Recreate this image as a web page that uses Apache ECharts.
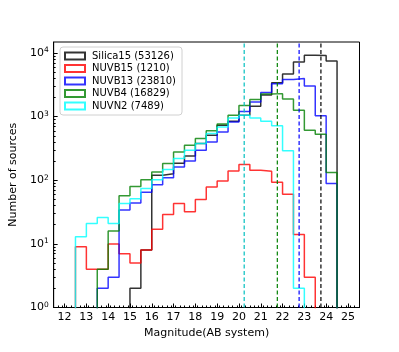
<!DOCTYPE html>
<html>
<head>
<meta charset="utf-8">
<script src="https://cdn.jsdelivr.net/npm/echarts@6/dist/echarts.min.js"></script>
<style>html,body{margin:0;padding:0;background:#fff}#c{width:399px;height:352px}</style>
</head>
<body>
<div id="c"></div>
<script>
// Left edges of 0.5-mag bins (last bin ends at 25.0)
const binLefts = [12.5,13,13.5,14,14.5,15,15.5,16,16.5,17,17.5,18,18.5,19,19.5,20,20.5,21,21.5,22,22.5,23,23.5,24,24.5];
const binWidth = 0.5;
const silica15 = [0,0,0,0,0,2,8,120,127,185,240,378,510,734,850,1050,1460,2180,3400,4700,7200,9200,9100,7500,0];
const nuvb15   = [9,4,4,10,7,5,8,17,29,43,32,50,78,97,140,177,144,138,93,60,14,3,0,0,0];
const nuvb13   = [0,0,2,3,34,44,65,85,110,162,201,296,400,573,820,1200,1700,2400,3300,3850,3980,3020,1030,89,0];
const nuvb4    = [0,0,4,16,57,80,102,135,183,279,355,454,598,763,1055,1500,1860,2260,2300,1890,1260,612,530,133,0];
const nuvn2    = [13,21,26,21,43,51,74,102,147,219,296,378,543,690,950,1050,950,850,720,290,2,0,0,0,0];
const seriesNames  = ['Silica15 (53126)','NUVB15 (1210)','NUVB13 (23810)','NUVB4 (16829)','NUVN2 (7489)'];
const seriesColors = ['#000000','#ff0000','#0000ff','#008000','#00ffff'];
const limitMags    = [20.24, 21.76, 22.76, 23.76];
const limitColors  = ['#00bfbf','#008000','#0000ff','#000000'];
const xTicks = [12,13,14,15,16,17,18,19,20,21,22,23,24,25];
const yTicks = [1,10,100,1000,10000];

const allSeries = [silica15, nuvb15, nuvb13, nuvb4, nuvn2];
const FLOOR = 0.01; // below axis min: draws to bottom edge (clipped)
const XMIN = 11.5, XMAX = 25.53, YMIN = 1, YMAX = 14900;
const font = 'DejaVu Sans';

function stepData(vals){
  let a = vals.findIndex(v => v > 0);
  let b = vals.length - 1 - [...vals].reverse().findIndex(v => v > 0);
  const pts = [[binLefts[a], FLOOR]];
  for (let i = a; i <= b; i++) pts.push([binLefts[i], vals[i] > 0 ? vals[i] : FLOOR]);
  const end = binLefts[b] + binWidth;
  pts.push([end, vals[b]]);
  pts.push([end, FLOOR]);
  return pts;
}

const minorX = [];
for (let i = 115; i <= 255; i += 2) { if (i % 10 !== 0) minorX.push(i / 10); }
const minorY = [];
for (let d = 1; d <= 10000; d *= 10) for (let k = 2; k <= 9; k++) if (k * d < YMAX) minorY.push(k * d);

const series = allSeries.map((vals, i) => ({
  name: seriesNames[i], type: 'line', step: 'end', xAxisIndex: 0, yAxisIndex: 0,
  data: stepData(vals), symbol: 'none', clip: true,
  lineStyle: {color: seriesColors[i], width: 1.5, opacity: 0.8},
  itemStyle: {color: 'rgba(0,0,0,0)', borderColor: seriesColors[i], borderWidth: 1.5, opacity: 0.8},
  z: 2 + i
}));
limitMags.forEach((m, j) => {
  series.push({
    type: 'line', xAxisIndex: 0, yAxisIndex: 0, symbol: 'none', z: 10, silent: true, clip: true,
    data: [[m, YMIN], [m, YMAX]],
    lineStyle: {color: limitColors[j], type: [4, 2.5], width: 1.2, opacity: 1}
  });
});

const chart = echarts.init(document.getElementById('c'), null, {renderer: 'canvas'});
chart.setOption({
  animation: false,
  textStyle: {fontFamily: font},
  grid: {left: 50, right: 39.5, top: 42, bottom: 44.5, show: true, borderColor: '#000', borderWidth: 1, backgroundColor: 'transparent'},
  legend: {
    orient: 'vertical', left: 60, top: 47, padding: [4, 6, 4, 4], itemGap: 2.5,
    itemWidth: 20, itemHeight: 7, icon: 'rect',
    backgroundColor: 'rgba(255,255,255,0.8)', borderColor: '#d0d0d0', borderWidth: 1, borderRadius: 3,
    textStyle: {fontFamily: font, fontSize: 10, color: '#000', padding: [0, 0, 0, 2]},
    data: seriesNames
  },
  xAxis: [{
    type: 'value', min: XMIN, max: XMAX, position: 'bottom',
    name: 'Magnitude(AB system)', nameLocation: 'middle', nameGap: 17,
    nameTextStyle: {fontFamily: font, fontSize: 11, color: '#000'},
    axisLine: {show: true, lineStyle: {color: '#000', width: 1}},
    axisTick: {show: true, inside: true, length: 4, customValues: xTicks, lineStyle: {color: '#000'}},
    axisLabel: {show: true, customValues: xTicks, margin: 4, fontFamily: font, fontSize: 11, color: '#000'},
    splitLine: {show: false}
  }, {
    type: 'value', min: XMIN, max: XMAX, position: 'bottom',
    axisLine: {show: false}, axisLabel: {show: false}, splitLine: {show: false},
    axisTick: {show: true, inside: true, length: 2, customValues: minorX, lineStyle: {color: '#000'}}
  }],
  yAxis: [{
    type: 'log', logBase: 10, min: YMIN, max: YMAX, position: 'left',
    name: 'Number of sources', nameLocation: 'middle', nameGap: 28, nameRotate: 90,
    nameTextStyle: {fontFamily: font, fontSize: 11, color: '#000'},
    axisLine: {show: true, lineStyle: {color: '#000', width: 1}},
    axisTick: {show: true, inside: true, length: 4, customValues: yTicks, lineStyle: {color: '#000'}},
    axisLabel: {
      show: true, customValues: yTicks, margin: 5, color: '#000',
      formatter: v => '{b|10}{s|' + Math.round(Math.log10(v)) + '}',
      rich: {b: {fontFamily: font, fontSize: 11, color: '#000'}, s: {fontFamily: font, fontSize: 7.5, color: '#000', verticalAlign: 'top', padding: [0, 0, 5, 0]}}
    },
    splitLine: {show: false}
  }, {
    type: 'log', logBase: 10, min: YMIN, max: YMAX, position: 'left',
    axisLine: {show: false}, axisLabel: {show: false}, splitLine: {show: false},
    axisTick: {show: true, inside: true, length: 2, customValues: minorY, lineStyle: {color: '#000'}}
  }],
  series: series
});
</script>
</body>
</html>
